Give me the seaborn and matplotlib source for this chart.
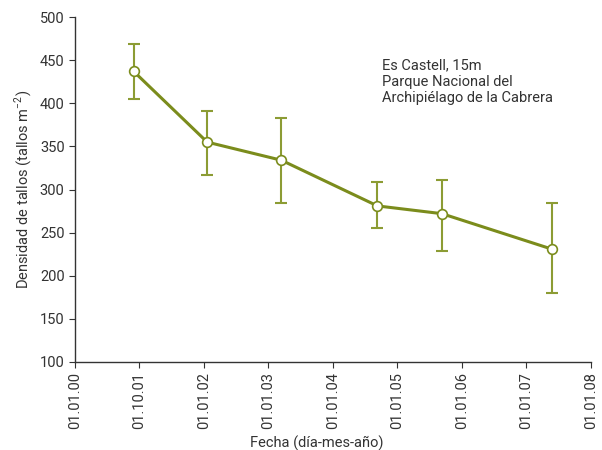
import matplotlib
matplotlib.use("Agg")
import matplotlib.pyplot as plt
import seaborn as sns
import pandas as pd

# Data (x in years since 01.01.2000)
fecha = [0.91, 2.05, 3.20, 4.69, 5.69, 7.39]
densidad = [437, 355, 334, 281, 272, 231]
err_sup = [469, 391, 383, 309, 311, 284]
err_inf = [405, 317, 284, 255, 229, 180]
tick_pos = [0, 1, 2, 3, 4, 5, 6, 7, 8]
tick_labels = ["01.01.00", "01.10.01", "01.01.02", "01.01.03", "01.01.04",
               "01.01.05", "01.01.06", "01.01.07", "01.01.08"]
y_ticks = [100, 150, 200, 250, 300, 350, 400, 450, 500]

df = pd.DataFrame({"fecha": fecha, "densidad": densidad})

sns.set_style("ticks")
plt.rcParams['font.family'] = ['Roboto', 'DejaVu Sans']

green = "#7b8c1c"
ebar = "#8c9c34"
txt = "#333333"

fig = plt.figure(figsize=(6.02, 4.5), dpi=100)
ax = fig.add_axes([0.1246, 0.1956, 0.857, 0.7664])

yerr = [[d - l for d, l in zip(densidad, err_inf)], [u - d for d, u in zip(densidad, err_sup)]]
ax.errorbar(fecha, densidad, yerr=yerr, fmt="none", ecolor=ebar, elinewidth=1.5,
            capsize=4, capthick=1.5, zorder=2)
sns.lineplot(data=df, x="fecha", y="densidad", ax=ax, color=green, linewidth=2.2,
             marker="o", markersize=7, markerfacecolor="white", markeredgecolor=green,
             markeredgewidth=1.2, zorder=3)

ax.set_xlim(0, 8)
ax.set_ylim(100, 500)
ax.set_xticks(tick_pos)
ax.set_xticklabels(tick_labels, rotation=90, fontsize=10.5, color=txt)
ax.set_yticks(y_ticks)
ax.set_yticklabels([str(v) for v in y_ticks], fontsize=10.5, color=txt)
ax.tick_params(axis="both", direction="out", length=4, width=0.8, color="#333333")
ax.set_xlabel("Fecha (día-mes-año)", fontsize=10.5, color=txt)
ax.xaxis.set_label_coords(0.469, -0.215)
ax.set_ylabel("Densidad de tallos (tallos m$^{\\mathregular{-2}}$)", fontsize=10.5, color=txt)
for s in ["left", "bottom"]:
    ax.spines[s].set_color("#333333")
    ax.spines[s].set_linewidth(1.0)
sns.despine(ax=ax)

ax.text(0.595, 0.88, "Es Castell, 15m\nParque Nacional del\nArchipiélago de la Cabrera",
        transform=ax.transAxes, fontsize=10.5, color=txt, va="top", ha="left",
        linespacing=1.2)

fig.savefig("out.png", dpi=100)
